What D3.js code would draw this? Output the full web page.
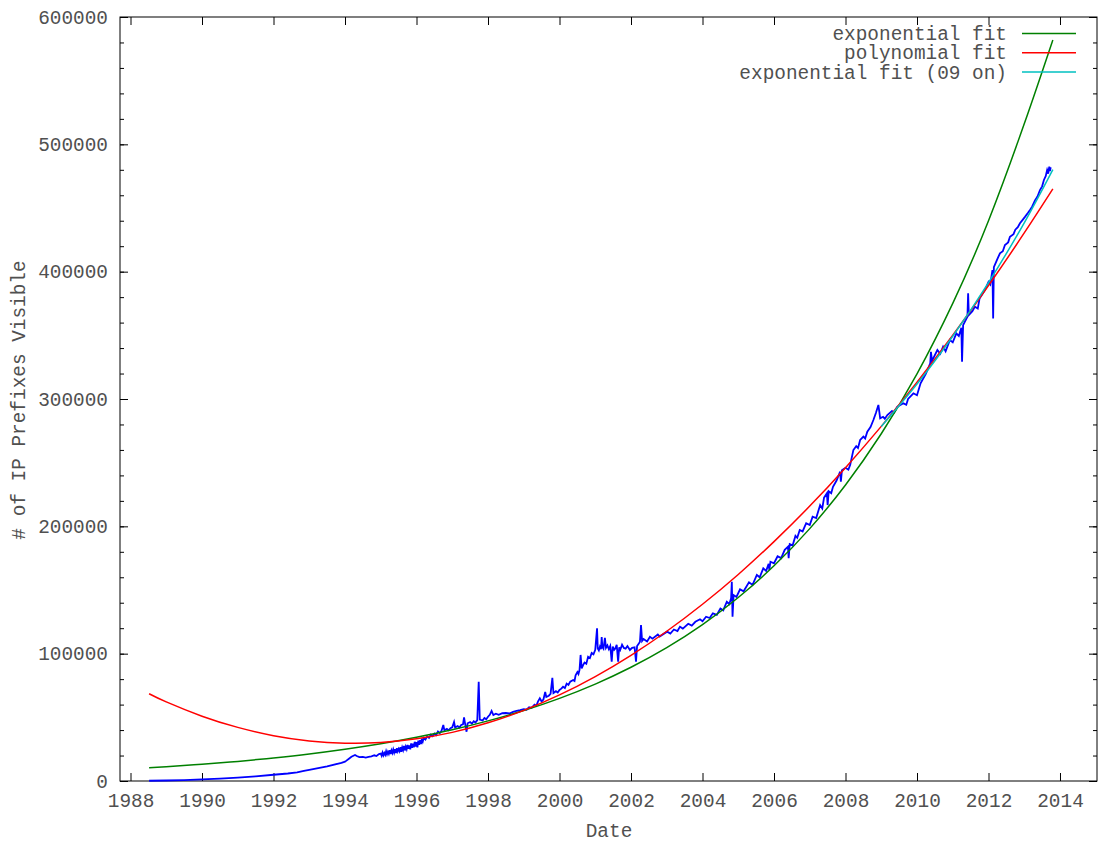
<!DOCTYPE html>
<html>
<head>
<meta charset="utf-8">
<script src="https://cdn.jsdelivr.net/npm/d3@7"></script>
<style>
  body { margin: 0; background: #fff; }
  text { font-family: "Liberation Mono", "Courier New", monospace; font-size: 19.4px; fill: #505050; }
</style>
</head>
<body>
<script>
// raw prefix counts: [decimal year, # prefixes]
var prefixData = [
  [1988.52, 200], [1989.0, 400], [1989.5, 700], [1990.0, 1300], [1990.5, 1900], [1991.0, 2700], [1991.5, 3700],
  [1992.0, 4900], [1992.4, 5900], [1992.66, 6800], [1992.85, 7900], [1993.0, 8700], [1993.5, 11500], [1993.9, 14300],
  [1994.0, 15200], [1994.04, 16000], [1994.1, 17300], [1994.18, 19000], [1994.28, 20400], [1994.33, 19600],
  [1994.4, 18700], [1994.5, 18900], [1994.58, 18400], [1994.66, 19000], [1994.74, 19300], [1994.82, 20200],
  [1994.88, 19600], [1994.95, 21200],
  [1995.0, 21500], [1995.025, 19800], [1995.05, 22300], [1995.075, 20200], [1995.1, 22000], [1995.125, 20500],
  [1995.15, 23400], [1995.175, 21000], [1995.2, 23000], [1995.225, 21300], [1995.25, 24200], [1995.275, 21200],
  [1995.3, 24000], [1995.325, 22000], [1995.35, 24800], [1995.375, 22300], [1995.4, 25000], [1995.425, 22000],
  [1995.45, 25800], [1995.475, 23300], [1995.5, 25200], [1995.525, 23500], [1995.55, 26500], [1995.575, 23000],
  [1995.6, 26300], [1995.625, 24200], [1995.65, 27500], [1995.675, 24000], [1995.7, 27000], [1995.725, 25000],
  [1995.75, 28400], [1995.775, 25300], [1995.8, 28000], [1995.825, 24800], [1995.85, 29500], [1995.875, 26000],
  [1995.9, 29300], [1995.925, 26500], [1995.95, 30800], [1995.975, 27000], [1996.0, 30500], [1996.025, 26500],
  [1996.05, 31800], [1996.075, 28500], [1996.1, 32000], [1996.125, 29000], [1996.15, 33200], [1996.175, 31000],
  [1996.2, 33800], [1996.25, 32500],
  [1996.3, 35000], [1996.35, 33800], [1996.4, 36400], [1996.45, 35200], [1996.5, 37200], [1996.55, 36000],
  [1996.6, 38800], [1996.65, 37500], [1996.7, 39400], [1996.75, 44000], [1996.78, 39800], [1996.85, 41000],
  [1996.9, 39800], [1996.95, 41500], [1997.0, 42200], [1997.05, 46300], [1997.08, 42000], [1997.15, 43200],
  [1997.2, 42000], [1997.25, 44000], [1997.3, 44500], [1997.33, 50000], [1997.36, 44800], [1997.4, 38700],
  [1997.43, 45300], [1997.5, 46300], [1997.55, 45000], [1997.6, 47000], [1997.65, 46000], [1997.7, 47800],
  [1997.74, 78000], [1997.77, 48200], [1997.85, 47500], [1997.9, 49500], [1997.95, 48500], [1998.0, 50500],
  [1998.05, 52000], [1998.1, 55000], [1998.15, 51800], [1998.22, 52800], [1998.3, 52000], [1998.4, 53200],
  [1998.5, 53400], [1998.6, 53000], [1998.7, 54300], [1998.8, 55000], [1998.9, 55600], [1999.0, 56500],
  [1999.08, 56000], [1999.15, 58000], [1999.22, 57500], [1999.3, 60000], [1999.35, 59000], [1999.4, 62500],
  [1999.45, 65000], [1999.5, 62500], [1999.55, 64000], [1999.6, 70000], [1999.63, 66000], [1999.7, 67000],
  [1999.75, 68500], [1999.8, 81000], [1999.83, 69000], [1999.9, 70500], [1999.95, 69500], [2000.0, 71500],
  [2000.05, 72500], [2000.1, 74000], [2000.15, 73000], [2000.2, 76500], [2000.25, 75500], [2000.3, 78000],
  [2000.38, 79300], [2000.42, 78500], [2000.45, 83000], [2000.5, 85500], [2000.53, 84000], [2000.56, 87200],
  [2000.59, 99000], [2000.62, 88500], [2000.66, 91000], [2000.7, 93000], [2000.75, 92000], [2000.8, 97500],
  [2000.85, 96500], [2000.9, 100500], [2000.95, 99500], [2001.0, 103000], [2001.05, 120000], [2001.07, 104000],
  [2001.1, 102500], [2001.13, 105500], [2001.16, 103500], [2001.18, 113000], [2001.2, 105000], [2001.23, 103800],
  [2001.27, 112500], [2001.3, 104500], [2001.34, 106500], [2001.38, 103500], [2001.42, 106000], [2001.46, 93700],
  [2001.49, 105500], [2001.53, 103000], [2001.56, 104000], [2001.6, 107000], [2001.64, 93700], [2001.67, 105000],
  [2001.7, 103000], [2001.75, 107000], [2001.8, 104500], [2001.85, 104000], [2001.9, 106000], [2001.97, 102900],
  [2002.03, 104500], [2002.1, 105000], [2002.14, 93700], [2002.17, 106000], [2002.21, 107500], [2002.25, 109400],
  [2002.28, 122500], [2002.31, 110000], [2002.35, 111500], [2002.45, 109500], [2002.53, 113300], [2002.6, 111800],
  [2002.75, 115000], [2002.8, 113500], [2003.01, 117300], [2003.1, 115800], [2003.2, 119000], [2003.3, 117800],
  [2003.37, 121200], [2003.45, 119700], [2003.6, 123500], [2003.7, 122000], [2003.8, 125000], [2003.93, 127000],
  [2004.0, 125500], [2004.1, 129000], [2004.2, 128000], [2004.29, 131700], [2004.4, 130500], [2004.5, 135500],
  [2004.58, 134000], [2004.68, 140800], [2004.75, 139000], [2004.8, 143500], [2004.82, 156500], [2004.84, 129000],
  [2004.87, 146000], [2004.95, 144500], [2005.05, 150500], [2005.15, 149000], [2005.3, 156000], [2005.4, 154000],
  [2005.52, 161800], [2005.6, 160000], [2005.7, 167000], [2005.78, 165000], [2005.85, 170500], [2005.87, 165700],
  [2005.9, 172200], [2006.0, 171000], [2006.1, 176500], [2006.2, 175000], [2006.3, 181500], [2006.39, 184000],
  [2006.41, 174900], [2006.44, 186000], [2006.52, 185000], [2006.6, 192500], [2006.65, 191000], [2006.72, 197100],
  [2006.8, 196000], [2006.9, 202500], [2007.0, 201000], [2007.08, 207600], [2007.18, 206500], [2007.29, 216700],
  [2007.35, 214000], [2007.4, 222500], [2007.48, 225900], [2007.5, 216700], [2007.53, 227500], [2007.6, 226000],
  [2007.65, 231100], [2007.75, 236000], [2007.85, 242900], [2007.87, 235000], [2007.9, 244000], [2008.0, 246000],
  [2008.08, 244500], [2008.13, 248100], [2008.22, 259900], [2008.3, 263000], [2008.35, 261500], [2008.41, 267800],
  [2008.5, 270500], [2008.55, 269000], [2008.61, 274300], [2008.7, 278000], [2008.78, 283500], [2008.85, 289000],
  [2008.92, 295300], [2008.97, 284800], [2009.05, 286000], [2009.1, 284500], [2009.17, 287400], [2009.3, 290500],
  [2009.35, 289000], [2009.45, 293900], [2009.62, 296600], [2009.7, 295500], [2009.75, 300000], [2009.9, 304500],
  [2010.0, 303000], [2010.1, 312300], [2010.25, 320000], [2010.37, 328000], [2010.39, 337100], [2010.42, 330000],
  [2010.57, 338500], [2010.65, 335500], [2010.73, 341100], [2010.8, 337500], [2010.92, 346300], [2011.0, 344500],
  [2011.1, 351500], [2011.17, 349500], [2011.24, 356000], [2011.26, 329300], [2011.29, 358000], [2011.41, 364600],
  [2011.43, 383000], [2011.45, 366000], [2011.55, 369000], [2011.62, 372500], [2011.7, 371000], [2011.75, 379000],
  [2011.9, 385600], [2012.0, 392000], [2012.05, 390000], [2012.11, 401300], [2012.13, 363300], [2012.15, 403500],
  [2012.25, 410000], [2012.32, 414400], [2012.4, 416000], [2012.46, 421000], [2012.55, 423000], [2012.6, 427400],
  [2012.7, 429500], [2012.75, 433000], [2012.82, 435000], [2012.88, 438000], [2012.95, 440500], [2013.02, 443000],
  [2013.1, 446000], [2013.16, 448400], [2013.22, 451000], [2013.3, 456000], [2013.37, 459000], [2013.44, 464100],
  [2013.5, 467000], [2013.55, 472000], [2013.6, 475000], [2013.64, 479800], [2013.67, 477000], [2013.7, 482400],
  [2013.72, 479000], [2013.74, 482000]
]

// fitted curves
var fitYears = [1988.52, 1989, 1990, 1991, 1992, 1993, 1994, 1995, 1996, 1997, 1998, 1999, 2000,
  2001, 2002, 2003, 2004, 2005, 2006, 2007, 2008, 2009, 2010, 2011, 2012, 2013, 2013.8]
var expFit = [10400, 11200, 13200, 15400, 18100, 21200, 24900, 29200, 34300, 40200, 47200, 55300, 64900,
  76100, 89300, 104700, 122800, 144100, 169000, 198200, 232500, 272700, 319800, 375100, 440000, 516100, 582000]
var polyFit = [68500, 62100, 50900, 42100, 35600, 31500, 29700, 30200, 33100, 38200, 45700, 55500, 67600,
  82000, 98700, 117600, 138800, 162200, 188000, 215900, 246100, 278500, 313200, 350100, 389100, 430400, 465000]
var exp09Years = [2009.0, 2010, 2011, 2012, 2013, 2013.8]
var exp09Fit = [278400, 311800, 349300, 391400, 438400, 480200]

var yearTicks = [1988, 1990, 1992, 1994, 1996, 1998, 2000, 2002, 2004, 2006, 2008, 2010, 2012, 2014]
var prefixTicks = [0, 100000, 200000, 300000, 400000, 500000, 600000]
var legendNames = ["exponential fit", "polynomial fit", "exponential fit (09 on)"]
var legendColors = ["#008000", "#ff0000", "#00c0c0"]

var width = 1100, height = 843
var plotLeft = 120, plotRight = 1097, plotTop = 17, plotBottom = 781

var svg = d3.select("body").append("svg")
    .attr("width", width).attr("height", height)

var xScale = d3.scaleLinear().domain([1987.706, 2015.035]).range([plotLeft, plotRight])
var yScale = d3.scaleLinear().domain([0, 600000]).range([plotBottom, plotTop])

// axes, ticks pointing inwards like gnuplot
var xAxis = d3.axisBottom(xScale).tickValues(yearTicks).tickFormat(d3.format("d"))
    .tickSizeInner(-8).tickSizeOuter(0).tickPadding(12)
var xTop = d3.axisTop(xScale).tickValues(yearTicks).tickFormat("").tickSizeInner(-8).tickSizeOuter(0)
var yAxis = d3.axisLeft(yScale).tickValues(prefixTicks).tickFormat(d3.format("d"))
    .tickSizeInner(-8).tickSizeOuter(0).tickPadding(12)
var yRight = d3.axisRight(yScale).tickValues(prefixTicks).tickFormat("").tickSizeInner(-8).tickSizeOuter(0)
var yMinor = d3.axisLeft(yScale).tickValues(d3.range(0, 600001, 20000)).tickFormat("").tickSizeInner(-4).tickSizeOuter(0)
var yMinorR = d3.axisRight(yScale).tickValues(d3.range(0, 600001, 20000)).tickFormat("").tickSizeInner(-4).tickSizeOuter(0)

svg.append("g").attr("transform", "translate(0," + plotBottom + ")").call(xAxis)
svg.append("g").attr("transform", "translate(0," + plotTop + ")").call(xTop)
svg.append("g").attr("transform", "translate(" + plotLeft + ",0)").call(yAxis)
svg.append("g").attr("transform", "translate(" + plotLeft + ",0)").call(yMinor)
svg.append("g").attr("transform", "translate(" + plotRight + ",0)").call(yRight)
svg.append("g").attr("transform", "translate(" + plotRight + ",0)").call(yMinorR)

svg.selectAll(".domain").remove()
svg.selectAll(".tick line").attr("stroke", "#000")
svg.selectAll("g").attr("font-family", null).attr("font-size", null)

svg.append("rect")
    .attr("x", plotLeft).attr("y", plotTop)
    .attr("width", plotRight - plotLeft).attr("height", plotBottom - plotTop)
    .attr("fill", "none").attr("stroke", "#000").attr("stroke-width", 1)

// data + fits
var dataLine = d3.line()
    .x(function(d) { return xScale(d[0]) })
    .y(function(d) { return yScale(d[1]) })
svg.append("path").datum(prefixData)
    .attr("d", dataLine)
    .attr("fill", "none").attr("stroke", "#0000ff").attr("stroke-width", 1.8)

function fitLine(years) {
    return d3.line()
        .x(function(d, i) { return xScale(years[i]) })
        .y(function(d) { return yScale(d) })
        .curve(d3.curveNatural)
}
svg.append("path").datum(expFit).attr("d", fitLine(fitYears))
    .attr("fill", "none").attr("stroke", legendColors[0]).attr("stroke-width", 1.5)
svg.append("path").datum(polyFit).attr("d", fitLine(fitYears))
    .attr("fill", "none").attr("stroke", legendColors[1]).attr("stroke-width", 1.5)
svg.append("path").datum(exp09Fit).attr("d", fitLine(exp09Years))
    .attr("fill", "none").attr("stroke", legendColors[2]).attr("stroke-width", 1.5)

//Legend
var legend = svg.append("g").selectAll("g").data(legendNames).enter().append("g")
    .attr("transform", function(d, i) { return "translate(0," + (33.5 + i * 19.3) + ")" })
legend.append("text")
    .attr("x", 1007).attr("dy", "0.33em").attr("text-anchor", "end")
    .text(function(d) { return d })
legend.append("line")
    .attr("x1", 1022).attr("x2", 1076)
    .attr("stroke", function(d, i) { return legendColors[i] }).attr("stroke-width", 1.5)

// axis titles
svg.append("text").attr("x", 609).attr("y", 837).attr("text-anchor", "middle").text("Date")
svg.append("text")
    .attr("transform", "translate(25,400) rotate(-90)")
    .attr("text-anchor", "middle")
    .text("# of IP Prefixes Visible")
</script>
</body>
</html>
